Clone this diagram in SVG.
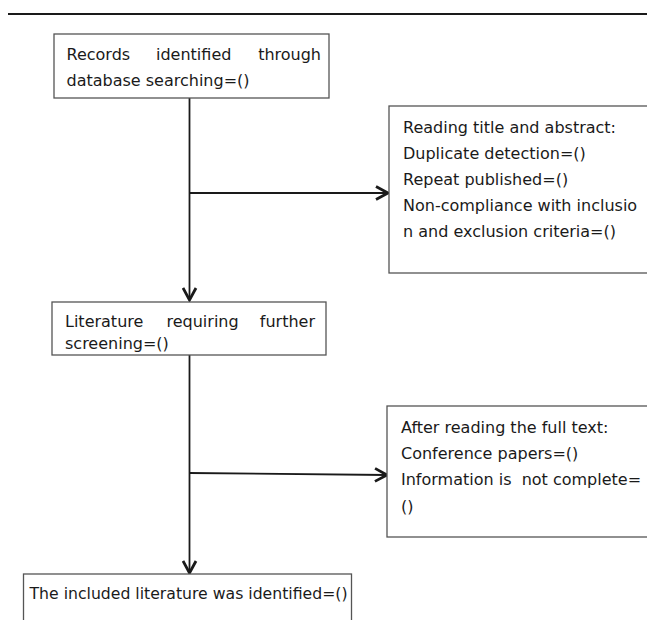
<svg xmlns="http://www.w3.org/2000/svg" width="647" height="620" viewBox="0 0 647 620">
<style>
.box{fill:#fff;stroke:#555;stroke-width:1.3}
.t{font-family:"DejaVu Sans",sans-serif;font-size:16px;fill:#1a1a1a;white-space:pre}
.c{stroke:#1a1a1a;stroke-width:1.8;fill:none}
</style>
<defs>
<marker id="ah" viewBox="0 0 16 16" refX="14" refY="8" markerWidth="16" markerHeight="16" markerUnits="userSpaceOnUse" orient="auto">
<path d="M2,1.5 L14,8 L2,14.5" fill="none" stroke="#1a1a1a" stroke-width="2.8"/>
</marker>
</defs>
<line x1="8" y1="14" x2="647" y2="14" stroke="#1a1a1a" stroke-width="2.2"/>
<g id="connectors">
<line class="c" x1="189.5" y1="98" x2="189.5" y2="300" marker-end="url(#ah)"/>
<line class="c" x1="189.5" y1="193" x2="388" y2="193" marker-end="url(#ah)"/>
<line class="c" x1="189.5" y1="355" x2="189.5" y2="573" marker-end="url(#ah)"/>
<line class="c" x1="189.5" y1="473" x2="387" y2="475" marker-end="url(#ah)"/>
</g>
<g id="n1">
<rect class="box" x="54" y="34" width="275" height="64"/>
<text class="t" x="66.5" y="60">Records</text>
<text class="t" x="156" y="60">identified</text>
<text class="t" x="321" y="60" text-anchor="end">through</text>
<text class="t" x="66.5" y="86">database searching=()</text>
</g>
<g id="n2">
<rect class="box" x="389" y="106" width="262" height="167"/>
<text class="t" x="403" y="133">Reading title and abstract:</text>
<text class="t" x="403" y="159">Duplicate detection=()</text>
<text class="t" x="403" y="185">Repeat published=()</text>
<text class="t" x="403" y="211">Non-compliance with inclusio</text>
<text class="t" x="403" y="237">n and exclusion criteria=()</text>
</g>
<g id="n3">
<rect class="box" x="52" y="302" width="274" height="53"/>
<text class="t" x="65" y="327">Literature</text>
<text class="t" x="166.5" y="327">requiring</text>
<text class="t" x="315" y="327" text-anchor="end">further</text>
<text class="t" x="65" y="349">screening=()</text>
</g>
<g id="n4">
<rect class="box" x="387" y="406" width="264" height="131"/>
<text class="t" x="401" y="433">After reading the full text:</text>
<text class="t" x="401" y="459">Conference papers=()</text>
<text class="t" x="401" y="485">Information is  not complete=</text>
<text class="t" x="401" y="512">()</text>
</g>
<g id="n5">
<rect class="box" x="23.5" y="574" width="328" height="50"/>
<text class="t" x="29.5" y="599" textLength="318" lengthAdjust="spacingAndGlyphs">The included literature was identified=()</text>
</g>
</svg>
